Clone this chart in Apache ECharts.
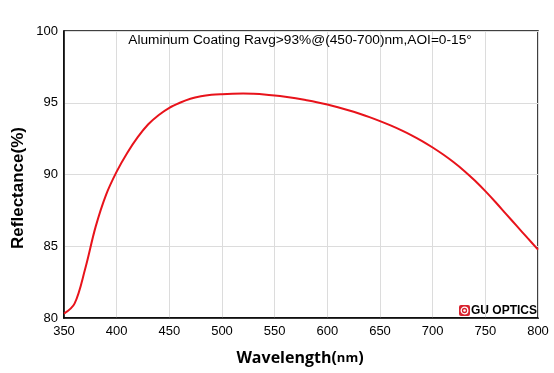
<!DOCTYPE html>
<html><head><meta charset="utf-8">
<script src="https://cdn.jsdelivr.net/npm/echarts@6/dist/echarts.min.js"></script>
<style>html,body{margin:0;padding:0;background:#fff}#c{width:554px;height:373px}</style>
</head><body><div id="c"></div>
<script>
const wavelengths = [350,360,370,380,390,400,410,420,430,440,450,460,470,480,490,500,510,520,530,540,550,560,570,580,590,600,610,620,630,640,650,660,670,680,690,700,710,720,730,740,750,760,770,780,790,800];
const reflectance = [80.3,81.0,83.4,86.35,88.6,90.2,91.5,92.6,93.5,94.15,94.65,95.0,95.28,95.45,95.55,95.6,95.63,95.64,95.62,95.58,95.51,95.42,95.31,95.18,95.04,94.88,94.69,94.48,94.25,94.0,93.72,93.42,93.09,92.73,92.33,91.88,91.39,90.85,90.25,89.58,88.84,88.05,87.22,86.4,85.58,84.77];
const xTicks = [350,400,450,500,550,600,650,700,750,800];
const yTicks = [80,85,90,95,100];
const titleText = 'Aluminum Coating Ravg>93%@(450-700)nm,AOI=0-15°';
const xName = 'Wavelength';
const xUnit = 'nm';
const yName = 'Reflectance(%)';
const brand = 'GU OPTICS';

const chart = echarts.init(document.getElementById('c'), null, {renderer:'canvas'});
const L = 64, T = 31, R = 538, B = 318;
chart.setOption({
  animation:false,
  backgroundColor:'#fff',
  grid:{left:L, top:T, right:554-R, bottom:373-B, show:true, borderColor:'#000', borderWidth:1.5, backgroundColor:'transparent'},
  xAxis:{type:'value', min:xTicks[0], max:xTicks[xTicks.length-1], interval:50,
    axisLine:{show:true, lineStyle:{color:'#000', width:1.5}}, axisTick:{show:false},
    axisLabel:{color:'#000', fontSize:13, fontFamily:'Liberation Sans, Arial', margin:7},
    splitLine:{show:true, lineStyle:{color:'#dcdcdc', width:1}}},
  yAxis:{type:'value', min:yTicks[0], max:yTicks[yTicks.length-1], interval:5,
    axisLine:{show:true, lineStyle:{color:'#000', width:1.5}}, axisTick:{show:false},
    axisLabel:{color:'#000', fontSize:13, fontFamily:'Liberation Sans, Arial', margin:6},
    splitLine:{show:true, lineStyle:{color:'#dcdcdc', width:1}}},
  series:[{type:'line', data:wavelengths.map((w,i)=>[w,reflectance[i]]), showSymbol:false, smooth:0.35,
    lineStyle:{color:'#e8131b', width:2}, z:5}],
  graphic:[
    {type:'text', x:300, y:40, z:10, style:{text:titleText, fill:'#000', font:'13.7px "Liberation Sans", Arial', textAlign:'center', textVerticalAlign:'middle'}},
    {type:'text', x:300, y:358, z:10, style:{text:'{a|'+xName+'(}{b|'+xUnit+'}{a|)}', textAlign:'center', textVerticalAlign:'middle',
      rich:{a:{fontSize:16, fontWeight:'bold', fontFamily:'"Open Sans", "DejaVu Sans", sans-serif', fill:'#000'},
            b:{fontSize:13, fontWeight:'bold', fontFamily:'"Open Sans", "DejaVu Sans", sans-serif', fill:'#000'}}}},
    {type:'text', x:18, y:188, rotation:Math.PI/2, z:10, style:{text:yName, textAlign:'center', textVerticalAlign:'middle',
      font:'bold 17px "Liberation Sans", Arial', fill:'#000'}},
    {type:'group', x:459, y:305, z:10, children:[
      {type:'rect', shape:{x:0, y:0, width:11, height:11, r:2}, style:{fill:'#d8232f'}},
      {type:'circle', shape:{cx:5.5, cy:5.5, r:3.3}, style:{fill:'none', stroke:'#fff', lineWidth:1.3}},
      {type:'circle', shape:{cx:5.5, cy:5.5, r:1.3}, style:{fill:'#fff'}},
      {type:'text', x:12, y:5.5, style:{text:brand, font:'bold 12px "Liberation Sans", Arial', fill:'#000', textVerticalAlign:'middle'}}
    ]}
  ]
});
</script></body></html>
